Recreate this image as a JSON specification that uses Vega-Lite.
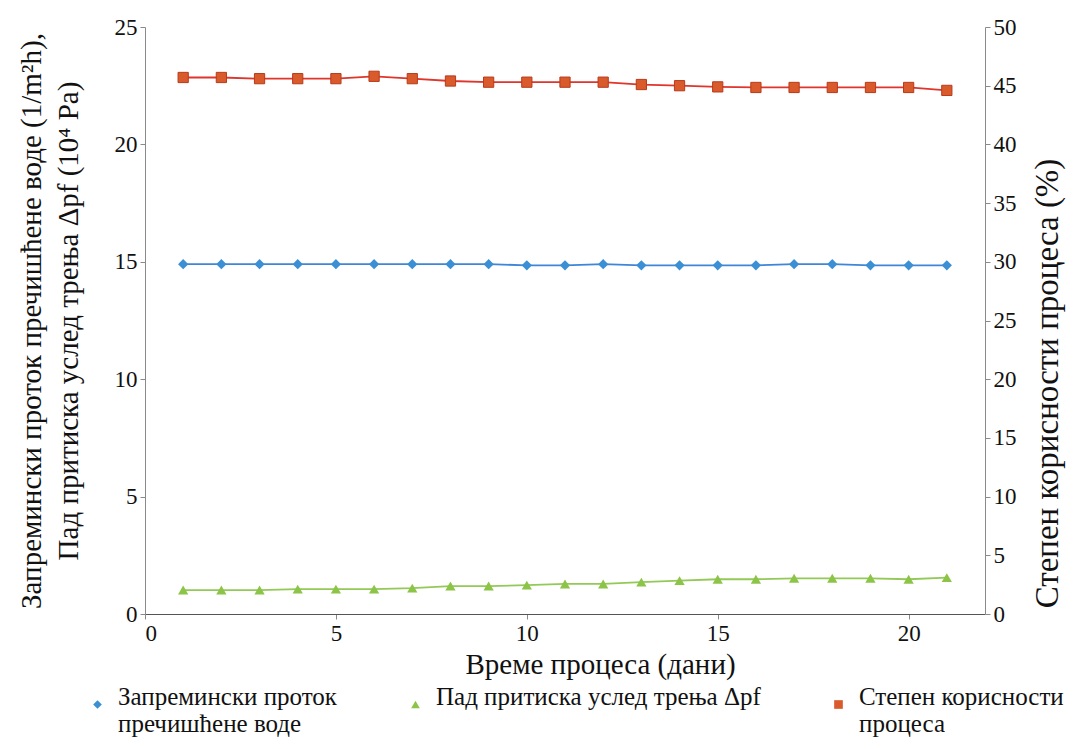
{
  "$schema": "https://vega.github.io/schema/vega-lite/v6.json",
  "width": 840,
  "height": 587,
  "autosize": "none",
  "padding": {"left": 145, "top": 27, "right": 88, "bottom": 135},
  "background": "white",
  "config": {
    "font": "Liberation Serif",
    "view": {"stroke": null},
    "axis": {
      "grid": false,
      "domainColor": "#8a8a8a",
      "tickColor": "#8a8a8a",
      "tickSize": 5,
      "labelColor": "#111",
      "labelFontSize": 23,
      "titleFontSize": 29,
      "titleFontWeight": "normal",
      "titleColor": "#111",
      "labelPadding": 3
    },
    "legend": {
      "orient": "none",
      "legendX": -60,
      "legendY": 665,
      "direction": "horizontal",
      "columns": 3,
      "gridAlign": "none",
      "columnPadding": 65,
      "labelFontSize": 25,
      "labelFont": "Liberation Serif",
      "labelColor": "#111",
      "labelLimit": 500,
      "symbolSize": 75,
      "labelBaseline": "alphabetic",
      "labelOffset": 8
    }
  },
  "data": {
    "values": [
      {"day": 1, "s": "Запремински проток пречишћене воде", "v": 14.9},
      {"day": 2, "s": "Запремински проток пречишћене воде", "v": 14.9},
      {"day": 3, "s": "Запремински проток пречишћене воде", "v": 14.9},
      {"day": 4, "s": "Запремински проток пречишћене воде", "v": 14.9},
      {"day": 5, "s": "Запремински проток пречишћене воде", "v": 14.9},
      {"day": 6, "s": "Запремински проток пречишћене воде", "v": 14.9},
      {"day": 7, "s": "Запремински проток пречишћене воде", "v": 14.9},
      {"day": 8, "s": "Запремински проток пречишћене воде", "v": 14.9},
      {"day": 9, "s": "Запремински проток пречишћене воде", "v": 14.9},
      {"day": 10, "s": "Запремински проток пречишћене воде", "v": 14.85},
      {"day": 11, "s": "Запремински проток пречишћене воде", "v": 14.85},
      {"day": 12, "s": "Запремински проток пречишћене воде", "v": 14.9},
      {"day": 13, "s": "Запремински проток пречишћене воде", "v": 14.85},
      {"day": 14, "s": "Запремински проток пречишћене воде", "v": 14.85},
      {"day": 15, "s": "Запремински проток пречишћене воде", "v": 14.85},
      {"day": 16, "s": "Запремински проток пречишћене воде", "v": 14.85},
      {"day": 17, "s": "Запремински проток пречишћене воде", "v": 14.9},
      {"day": 18, "s": "Запремински проток пречишћене воде", "v": 14.9},
      {"day": 19, "s": "Запремински проток пречишћене воде", "v": 14.85},
      {"day": 20, "s": "Запремински проток пречишћене воде", "v": 14.85},
      {"day": 21, "s": "Запремински проток пречишћене воде", "v": 14.85},
      {"day": 1, "s": "Пад притиска услед трења Δpf", "v": 1.02},
      {"day": 2, "s": "Пад притиска услед трења Δpf", "v": 1.02},
      {"day": 3, "s": "Пад притиска услед трења Δpf", "v": 1.02},
      {"day": 4, "s": "Пад притиска услед трења Δpf", "v": 1.06},
      {"day": 5, "s": "Пад притиска услед трења Δpf", "v": 1.06},
      {"day": 6, "s": "Пад притиска услед трења Δpf", "v": 1.06},
      {"day": 7, "s": "Пад притиска услед трења Δpf", "v": 1.1},
      {"day": 8, "s": "Пад притиска услед трења Δpf", "v": 1.19},
      {"day": 9, "s": "Пад притиска услед трења Δpf", "v": 1.19},
      {"day": 10, "s": "Пад притиска услед трења Δpf", "v": 1.23},
      {"day": 11, "s": "Пад притиска услед трења Δpf", "v": 1.28},
      {"day": 12, "s": "Пад притиска услед трења Δpf", "v": 1.28},
      {"day": 13, "s": "Пад притиска услед трења Δpf", "v": 1.36},
      {"day": 14, "s": "Пад притиска услед трења Δpf", "v": 1.42},
      {"day": 15, "s": "Пад притиска услед трења Δpf", "v": 1.48},
      {"day": 16, "s": "Пад притиска услед трења Δpf", "v": 1.48},
      {"day": 17, "s": "Пад притиска услед трења Δpf", "v": 1.52},
      {"day": 18, "s": "Пад притиска услед трења Δpf", "v": 1.52},
      {"day": 19, "s": "Пад притиска услед трења Δpf", "v": 1.52},
      {"day": 20, "s": "Пад притиска услед трења Δpf", "v": 1.48},
      {"day": 21, "s": "Пад притиска услед трења Δpf", "v": 1.55},
      {"day": 1, "s": "Степен корисности процеса", "v": 45.7},
      {"day": 2, "s": "Степен корисности процеса", "v": 45.7},
      {"day": 3, "s": "Степен корисности процеса", "v": 45.6},
      {"day": 4, "s": "Степен корисности процеса", "v": 45.6},
      {"day": 5, "s": "Степен корисности процеса", "v": 45.6},
      {"day": 6, "s": "Степен корисности процеса", "v": 45.8},
      {"day": 7, "s": "Степен корисности процеса", "v": 45.6},
      {"day": 8, "s": "Степен корисности процеса", "v": 45.4},
      {"day": 9, "s": "Степен корисности процеса", "v": 45.3},
      {"day": 10, "s": "Степен корисности процеса", "v": 45.3},
      {"day": 11, "s": "Степен корисности процеса", "v": 45.3},
      {"day": 12, "s": "Степен корисности процеса", "v": 45.3},
      {"day": 13, "s": "Степен корисности процеса", "v": 45.1},
      {"day": 14, "s": "Степен корисности процеса", "v": 45.0},
      {"day": 15, "s": "Степен корисности процеса", "v": 44.9},
      {"day": 16, "s": "Степен корисности процеса", "v": 44.85},
      {"day": 17, "s": "Степен корисности процеса", "v": 44.85},
      {"day": 18, "s": "Степен корисности процеса", "v": 44.85},
      {"day": 19, "s": "Степен корисности процеса", "v": 44.85},
      {"day": 20, "s": "Степен корисности процеса", "v": 44.85},
      {"day": 21, "s": "Степен корисности процеса", "v": 44.6}
    ]
  },
  "encoding": {
    "x": {
      "field": "day",
      "type": "quantitative",
      "scale": {"domain": [0, 22], "nice": false},
      "axis": {
        "values": [0, 5, 10, 15, 20],
        "title": "Време процеса (дани)",
        "titleX": 455,
        "titlePadding": 5,
        "domainColor": "#555"
      }
    }
  },
  "layer": [
    {
      "transform": [{"filter": "datum.v < 25"}],
      "encoding": {
        "y": {
          "field": "v",
          "type": "quantitative",
          "scale": {"domain": [0, 25], "nice": false},
          "axis": {
            "orient": "left",
            "values": [0, 5, 10, 15, 20, 25],
            "title": ["Запремински проток пречишћене воде (1/m²h),", "Пад притиска услед трења Δpf (10⁴ Pa)"],
            "titleLineHeight": 37,
            "titlePadding": 31
          }
        }
      },
      "layer": [
        {
          "mark": {"type": "line", "strokeWidth": 1.8},
          "encoding": {
            "stroke": {
              "field": "s",
              "type": "nominal",
              "scale": {"range": ["#3f86d8", "#93c957", "#e0352c"]},
              "legend": null
            }
          }
        },
        {
          "mark": {"type": "point", "filled": true, "opacity": 1, "size": 105},
          "encoding": {
            "color": {
              "field": "s",
              "type": "nominal",
              "scale": {"domain": ["Запремински проток пречишћене воде", "Пад притиска услед трења Δpf", "Степен корисности процеса"], "range": ["#3b8fd4", "#8cc447", "#d95a2b"]},
              "legend": {
                "title": null,
                "labelExpr": "datum.label == 'Запремински проток пречишћене воде' ? ['Запремински проток', 'пречишћене воде'] : datum.label == 'Степен корисности процеса' ? ['Степен корисности', 'процеса'] : datum.label"
              }
            },
            "shape": {
              "field": "s",
              "type": "nominal",
              "scale": {"domain": ["Запремински проток пречишћене воде", "Пад притиска услед трења Δpf", "Степен корисности процеса"], "range": ["diamond", "triangle-up", "square"]},
              "legend": {
                "title": null,
                "labelExpr": "datum.label == 'Запремински проток пречишћене воде' ? ['Запремински проток', 'пречишћене воде'] : datum.label == 'Степен корисности процеса' ? ['Степен корисности', 'процеса'] : datum.label"
              }
            }
          }
        }
      ]
    },
    {
      "transform": [{"filter": "datum.v > 25"}],
      "encoding": {
        "y": {
          "field": "v",
          "type": "quantitative",
          "scale": {"domain": [0, 50], "nice": false},
          "axis": {
            "orient": "right",
            "values": [0, 5, 10, 15, 20, 25, 30, 35, 40, 45, 50],
            "title": "Степен корисности процеса (%)",
            "titleAngle": -90,
            "titleBaseline": "top",
            "titleFontSize": 33,
            "titleY": 356,
            "titlePadding": 15
          }
        }
      },
      "layer": [
        {
          "mark": {"type": "line", "strokeWidth": 1.8},
          "encoding": {
            "stroke": {"field": "s", "type": "nominal", "legend": null}
          }
        },
        {
          "mark": {"type": "point", "filled": true, "opacity": 1, "size": 105, "stroke": "#b83a1c", "strokeWidth": 1},
          "encoding": {
            "color": {"field": "s", "type": "nominal"},
            "shape": {"field": "s", "type": "nominal"}
          }
        }
      ]
    }
  ],
  "resolve": {"scale": {"y": "independent"}}
}
